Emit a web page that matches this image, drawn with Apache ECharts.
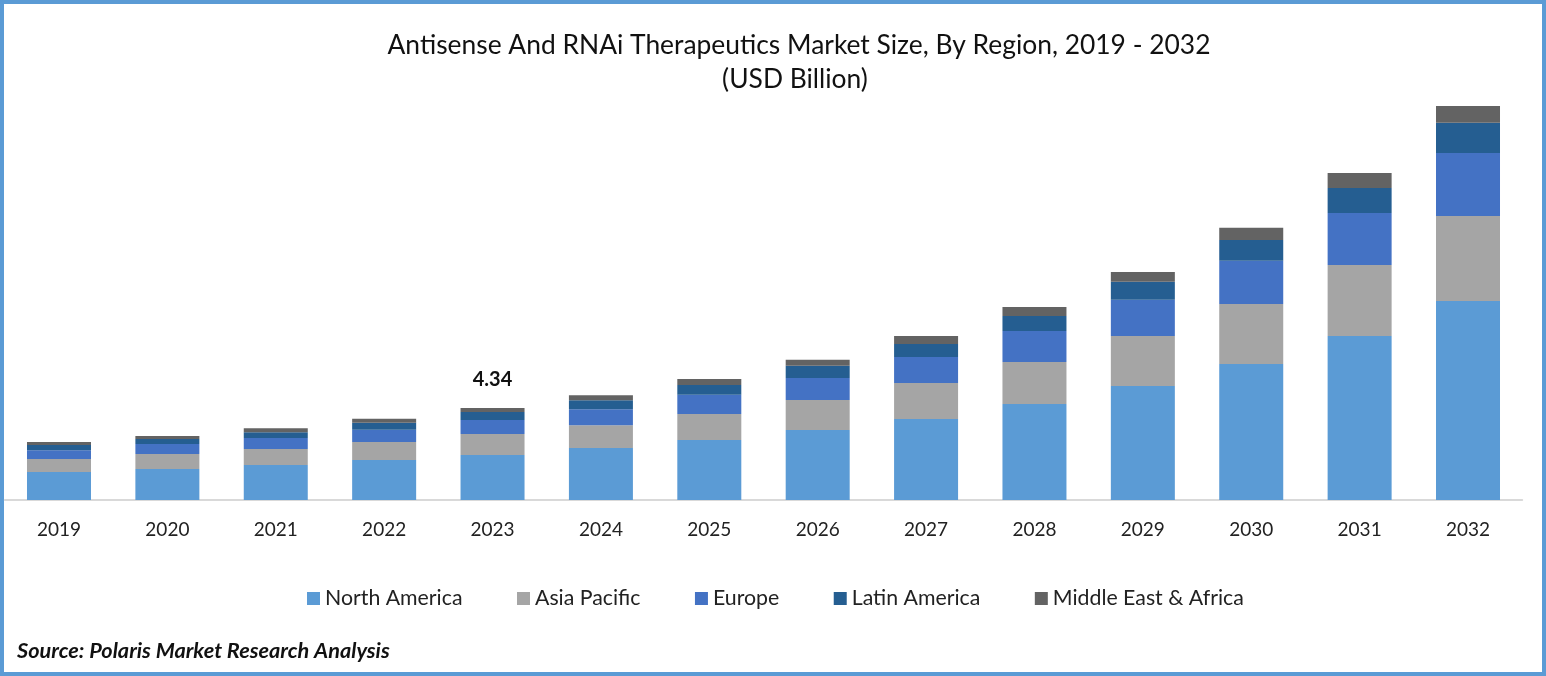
<!DOCTYPE html>
<html>
<head>
<meta charset="utf-8">
<script src="https://cdn.jsdelivr.net/npm/echarts@6/dist/echarts.min.js"></script>
<style>
  html, body { margin: 0; padding: 0; background: #fff; }
  #chart { width: 1546px; height: 676px; }
</style>
</head>
<body>
<div id="chart"></div>
<script>
const years = ['2019','2020','2021','2022','2023','2024','2025','2026','2027','2028','2029','2030','2031','2032'];
const northAmerica = [1.32,1.46,1.65,1.89,2.12,2.45,2.83,3.30,3.82,4.53,5.38,6.42,7.74,9.39];
const asiaPacific = [0.61,0.71,0.75,0.85,0.99,1.08,1.23,1.42,1.70,1.98,2.36,2.83,3.35,4.01];
const europe = [0.42,0.47,0.52,0.57,0.66,0.75,0.90,1.04,1.23,1.46,1.70,2.03,2.45,2.97];
const latinAmerica = [0.24,0.24,0.28,0.33,0.38,0.42,0.47,0.57,0.61,0.71,0.85,0.99,1.18,1.42];
const middleEast = [0.14,0.14,0.19,0.19,0.19,0.24,0.28,0.28,0.38,0.42,0.47,0.57,0.71,0.80];
const labelYear = '2023';
const labelText = '4.34';

const FONT = 'Lato';
const chart = echarts.init(document.getElementById('chart'));

function stacked(name, values, color) {
    return { name, type: 'bar', stack: 'total', barWidth: 64, data: values, itemStyle: { color }, emphasis: { disabled: true } };
}

const topSeries = stacked('Middle East & Africa', middleEast.map((v, i) => {
    if (years[i] !== labelYear) return v;
    return {
        value: v,
        label: {
            show: true, position: 'top', distance: 18, formatter: labelText,
            fontFamily: FONT, fontSize: 20, fontWeight: 'bold', color: '#111'
        }
    };
}), '#636363');

const titleStyle = { fontFamily: FONT, fontSize: 26.4, fontWeight: 'normal', color: '#111' };

chart.setOption({
    animation: false,
    title: [
        { text: 'Antisense And RNAi Therapeutics Market Size, By Region, 2019 - 2032',
          left: 794, top: 27, textAlign: 'center', textStyle: titleStyle },
        { text: '(USD Billion)', left: 790, top: 61, textAlign: 'center', textStyle: titleStyle }
    ],
    legend: {
        left: 307, top: 588, padding: 0, itemWidth: 13, itemHeight: 13, itemGap: 54.5,
        icon: 'rect',
        textStyle: { fontFamily: FONT, fontSize: 21.3, color: '#222' },
        data: ['North America', 'Asia Pacific', 'Europe', 'Latin America', 'Middle East & Africa']
    },
    grid: { left: 4.8, right: 23.8, top: 76, bottom: 176 },
    xAxis: {
        type: 'category', data: years,
        axisLine: { lineStyle: { color: '#D9D9D9', width: 2 } },
        axisTick: { show: false },
        axisLabel: { fontFamily: FONT, fontSize: 19, color: '#222', margin: 20 }
    },
    yAxis: { type: 'value', min: 0, max: 20, show: false, splitLine: { show: false } },
    graphic: [
        { type: 'rect', silent: true, shape: { x: 2, y: 2, width: 1542, height: 672 },
          style: { fill: 'none', stroke: '#5B9BD5', lineWidth: 4 } },
        { type: 'text', left: 17, top: 640, silent: true,
          style: { text: 'Source: Polaris Market Research Analysis', fontFamily: FONT, fontSize: 21.7, fontWeight: 'bold', fontStyle: 'italic', fill: '#111' } }
    ],
    series: [
        stacked('North America', northAmerica, '#5B9BD5'),
        stacked('Asia Pacific', asiaPacific, '#A5A5A5'),
        stacked('Europe', europe, '#4472C4'),
        stacked('Latin America', latinAmerica, '#255E91'),
        topSeries
    ]
});
</script>
</body>
</html>
